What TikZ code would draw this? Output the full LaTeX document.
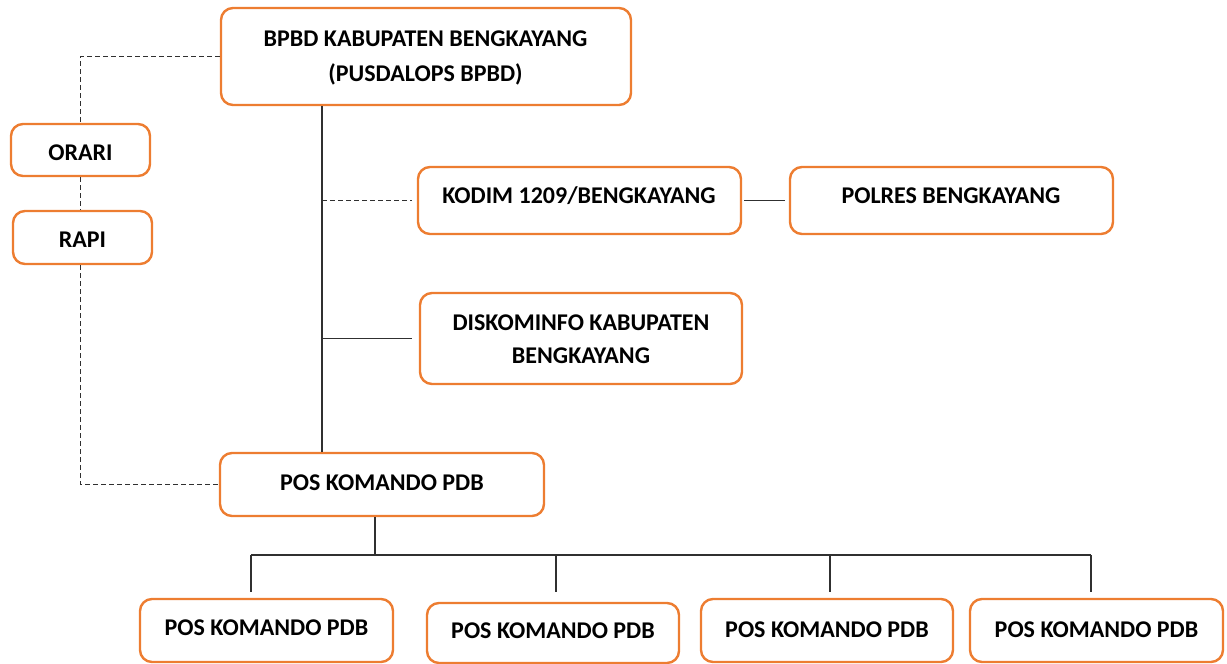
\documentclass[tikz,border=0pt]{standalone}
\usepackage{fontspec}
\setmainfont{Carlito}
\definecolor{boxorange}{HTML}{ED7D31}
\definecolor{linegray}{HTML}{303030}
\begin{document}
\begin{tikzpicture}[x=1pt,y=-1pt,
  box/.style={draw=boxorange,line width=2.4pt,rounded corners=12pt,fill=white,inner sep=0pt},
  lbl/.style={anchor=base,inner sep=0pt,font=\fontsize{24}{28}\selectfont\bfseries},
  conn/.style={draw=linegray,line width=1.4pt},
  dconn/.style={draw=linegray,line width=1.2pt,dash pattern=on 5pt off 3pt}]
\useasboundingbox (0,0) rectangle (1227,664);
% boxes
\node[box,minimum width=410,minimum height=97] (bpbd) at (426,56.5) {};
\node[box,minimum width=139,minimum height=52] (orari) at (80.5,150) {};
\node[box,minimum width=139,minimum height=53] (rapi) at (82.5,237.5) {};
\node[box,minimum width=323,minimum height=67] (kodim) at (579.5,200.5) {};
\node[box,minimum width=323,minimum height=67] (polres) at (951.5,200.5) {};
\node[box,minimum width=322,minimum height=91] (disko) at (581,338.5) {};
\node[box,minimum width=324,minimum height=63] (posm) at (382,484.5) {};
\node[box,minimum width=253,minimum height=63] (b1) at (266.5,630.5) {};
\node[box,minimum width=252,minimum height=60] (b2) at (553,633) {};
\node[box,minimum width=252,minimum height=63] (b3) at (827,630.5) {};
\node[box,minimum width=253,minimum height=63] (b4) at (1096.5,630.5) {};
% labels
\node[lbl] (tbpbd1) at (425.5,46) {BPBD KABUPATEN BENGKAYANG};
\node[lbl] (tbpbd2) at (425.5,81) {(PUSDALOPS BPBD)};
\node[lbl] (torari) at (80.5,160) {ORARI};
\node[lbl] (trapi) at (82.5,247) {RAPI};
\node[lbl] (tkodim) at (579,203) {KODIM 1209/BENGKAYANG};
\node[lbl] (tpolres) at (951,203) {POLRES BENGKAYANG};
\node[lbl] (tdisko1) at (581,330) {DISKOMINFO KABUPATEN};
\node[lbl] (tdisko2) at (581,363) {BENGKAYANG};
\node[lbl] (tposm) at (382,490) {POS KOMANDO PDB};
\node[lbl] (tb1) at (266.5,635) {POS KOMANDO PDB};
\node[lbl] (tb2) at (553,638) {POS KOMANDO PDB};
\node[lbl] (tb3) at (827,637) {POS KOMANDO PDB};
\node[lbl] (tb4) at (1096.5,637) {POS KOMANDO PDB};
% helper coordinates
\coordinate (sp) at (322,0);
\coordinate (dn) at (375,0);
\coordinate (bar) at (0,555);
\coordinate (d1) at (251,592);
\coordinate (d2) at (556,592);
\coordinate (d3) at (830,592);
\coordinate (d4) at (1091,592);
% connectors
\draw[conn] (bpbd.south -| sp) -- (posm.north -| sp);
\draw[dconn] (kodim.west -| sp) -- ([xshift=-5]kodim.west);
\draw[conn] (disko.west -| sp) -- ([xshift=-7]disko.west);
\draw[conn,shorten <=2pt,shorten >=4pt] (kodim.east) -- (polres.west);
\draw[dconn] (bpbd.west) -| (orari.north);
\draw[dconn] (orari.south) -- (orari.south |- rapi.north);
\draw[dconn] (rapi.south -| orari.south) |- (posm.west);
\draw[conn] (posm.south -| dn) -- (bar -| dn);
\draw[conn] (d1 |- bar) -- (d4 |- bar);
\draw[conn] (d1 |- bar) -- (d1);
\draw[conn] (d2 |- bar) -- (d2);
\draw[conn] (d3 |- bar) -- (d3);
\draw[conn] (d4 |- bar) -- (d4);
\end{tikzpicture}
\end{document}
